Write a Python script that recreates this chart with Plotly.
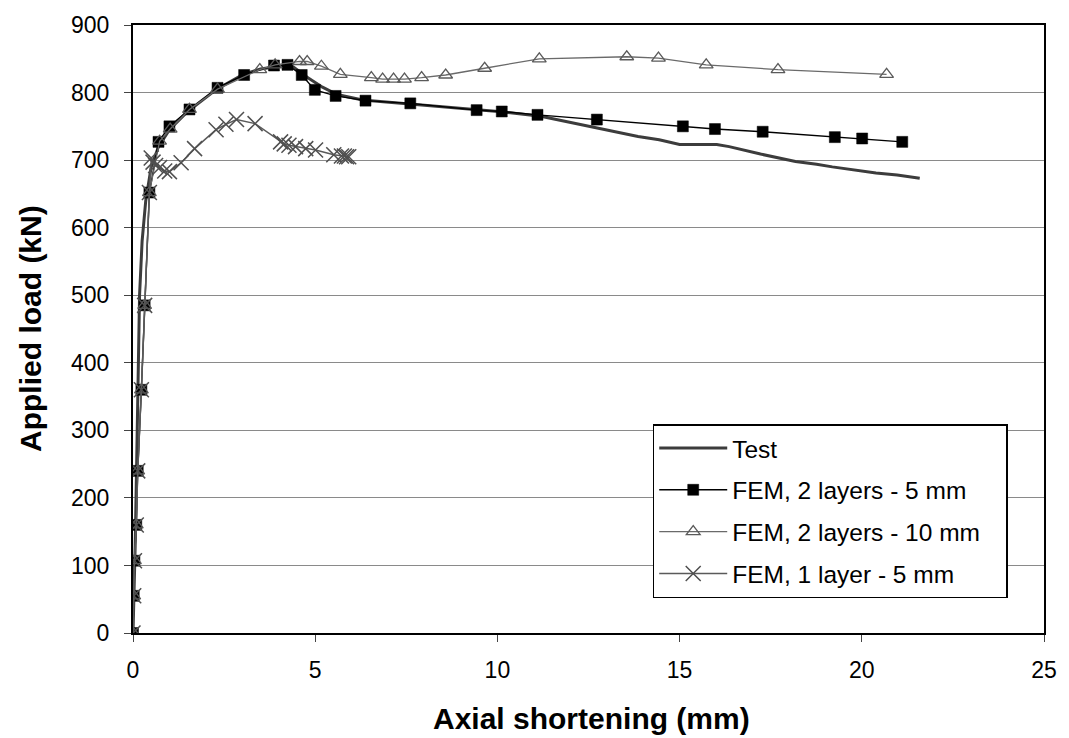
import plotly.graph_objects as go

# ---------------- data ----------------
test_x = [0, 0.03, 0.06, 0.1, 0.14, 0.18, 0.25, 0.35, 0.5, 0.7, 1.0, 1.5, 2.3, 3.0, 3.5, 4.0,
          4.4, 4.8, 5.2, 5.6, 6.3, 7.6, 9.4, 10.02, 11.19, 12.73, 13.86, 14.44, 15.0, 16.02,
          16.36, 17.22, 18.18, 18.76, 19.19, 20.39, 20.97, 21.59]
test_y = [0, 60, 130, 250, 400, 500, 580, 640, 690, 720, 745, 772, 805, 826, 835, 839,
          838, 822, 808, 797, 789, 783, 775, 772, 765, 748, 735, 730, 723, 723,
          720, 709, 698, 694, 690, 681, 678, 673]

fem5_x = [0, 0.02, 0.04, 0.09, 0.13, 0.23, 0.32, 0.45, 0.7, 1.0, 1.55, 2.32, 3.05, 3.87, 4.24,
          4.63, 4.99, 5.56, 6.38, 7.61, 9.43, 10.12, 11.1, 12.73, 15.09, 15.97, 17.28, 19.26,
          20.01, 21.11]
fem5_y = [0, 55, 107, 160, 240, 360, 485, 652, 727, 750, 775, 807, 826, 840, 841,
          826, 804, 795, 788, 784, 774, 772, 767, 760, 750, 746, 742, 734,
          732, 727]

fem10_x = [0, 0.02, 0.04, 0.09, 0.13, 0.23, 0.32, 0.45, 0.73, 1.02, 1.55, 2.32, 3.48, 3.9,
           4.57, 4.78, 5.17, 5.69, 6.54, 6.85, 7.15, 7.45, 7.92, 8.58, 9.65, 11.15, 13.55,
           14.42, 15.73, 17.70, 20.68]
fem10_y = [0, 55, 107, 160, 240, 360, 485, 652, 728, 746, 775, 805, 834, 841,
           846, 846, 839, 827, 822, 820, 820, 820, 822, 826, 836, 850, 853,
           851, 841, 834, 827]

fem1_x = [0, 0.02, 0.04, 0.09, 0.13, 0.23, 0.32, 0.45, 0.5, 0.55, 0.62, 0.73, 0.87, 1.0, 1.32,
          1.69, 2.28, 2.55, 2.84, 3.35, 4.05, 4.15, 4.28, 4.46, 4.74, 5.01, 5.51, 5.72, 5.8,
          5.86, 5.92]
fem1_y = [0, 55, 107, 160, 240, 360, 485, 652, 703, 697, 692, 689, 684, 683, 696,
          717, 745, 753, 760, 754, 727, 724, 722, 720, 717, 715, 708, 706, 706,
          705, 705]

x_ticks = [0, 5, 10, 15, 20, 25]
y_ticks = [0, 100, 200, 300, 400, 500, 600, 700, 800, 900]

names = ["Test", "FEM, 2 layers - 5 mm", "FEM, 2 layers - 10 mm\u00a0\u00a0\u00a0",
         "FEM, 1 layer - 5 mm"]

FONT = "Liberation Sans, Arial, sans-serif"

fig = go.Figure()
fig.add_trace(go.Scatter(x=test_x, y=test_y, mode="lines", name=names[0],
                         legendgroup="a",
                         line=dict(color="#3c3c3c", width=3)))
fig.add_trace(go.Scatter(x=fem5_x, y=fem5_y, mode="lines+markers",
                         name=names[1], legendgroup="b",
                         line=dict(color="#000000", width=1.4),
                         marker=dict(symbol="square", size=11, color="#000000",
                                     line=dict(color="#000000", width=0.5))))
fig.add_trace(go.Scatter(x=fem10_x, y=fem10_y, mode="lines+markers",
                         name=names[2], legendgroup="c",
                         line=dict(color="#6a6a6a", width=1.3),
                         marker=dict(symbol="triangle-up-open", size=12, color="#5a5a5a",
                                     line=dict(color="#5a5a5a", width=1.3))))
fig.add_trace(go.Scatter(x=fem1_x, y=fem1_y, mode="lines+markers",
                         name=names[3], legendgroup="d",
                         line=dict(color="#5a5a5a", width=1.5),
                         marker=dict(symbol="x-thin", size=15, color="#505050",
                                     line=dict(color="#505050", width=1.5))))

L, R, T, B = 133, 21, 22, 105
W, H = 1069, 738
pw = W - L - R
ph = H - T - B

fig.update_layout(
    width=W, height=H,
    margin=dict(l=L, r=R, t=T, b=B, pad=0),
    paper_bgcolor="white", plot_bgcolor="white",
    font=dict(family=FONT, color="black", size=23),
    showlegend=True,
    legend=dict(x=(655 - L) / pw, y=(H - B - 423) / ph, xanchor="left", yanchor="top",
                bgcolor="white", bordercolor="black", borderwidth=1.5,
                font=dict(family=FONT, size=24.5, color="black"),
                tracegroupgap=7, itemwidth=68,
                traceorder="grouped"),
    xaxis=dict(range=[0, 25], tickvals=x_ticks, ticktext=[str(v) for v in x_ticks],
               showgrid=False, zeroline=False,
               showline=True, linecolor="black", linewidth=2, mirror=True,
               ticks="outside", ticklen=7, tickwidth=1, tickcolor="#444",
               ticklabelstandoff=8,
               tickfont=dict(size=23, family=FONT, color="black")),
    yaxis=dict(range=[0, 900], tickvals=y_ticks, ticktext=[str(v) for v in y_ticks],
               showgrid=True, gridcolor="#8a8a8a", gridwidth=1, zeroline=False,
               showline=True, linecolor="black", linewidth=2, mirror=True,
               ticks="outside", ticklen=7, tickwidth=1, tickcolor="#444",
               ticklabelstandoff=10,
               tickfont=dict(size=23, family=FONT, color="black")),
    annotations=[
        dict(text="<b>Axial shortening (mm)</b>", xref="paper", yref="paper",
             x=(594 - L) / pw, y=(H - B - 719) / ph, xanchor="center", yanchor="middle",
             showarrow=False, font=dict(size=30, family=FONT, color="black")),
        dict(text="<b>Applied load (kN)</b>", xref="paper", yref="paper",
             x=(30 - L) / pw, y=(H - B - 327) / ph, xanchor="center", yanchor="middle",
             textangle=-90, showarrow=False,
             font=dict(size=30, family=FONT, color="black")),
    ],
)

fig.write_html("out.html")
